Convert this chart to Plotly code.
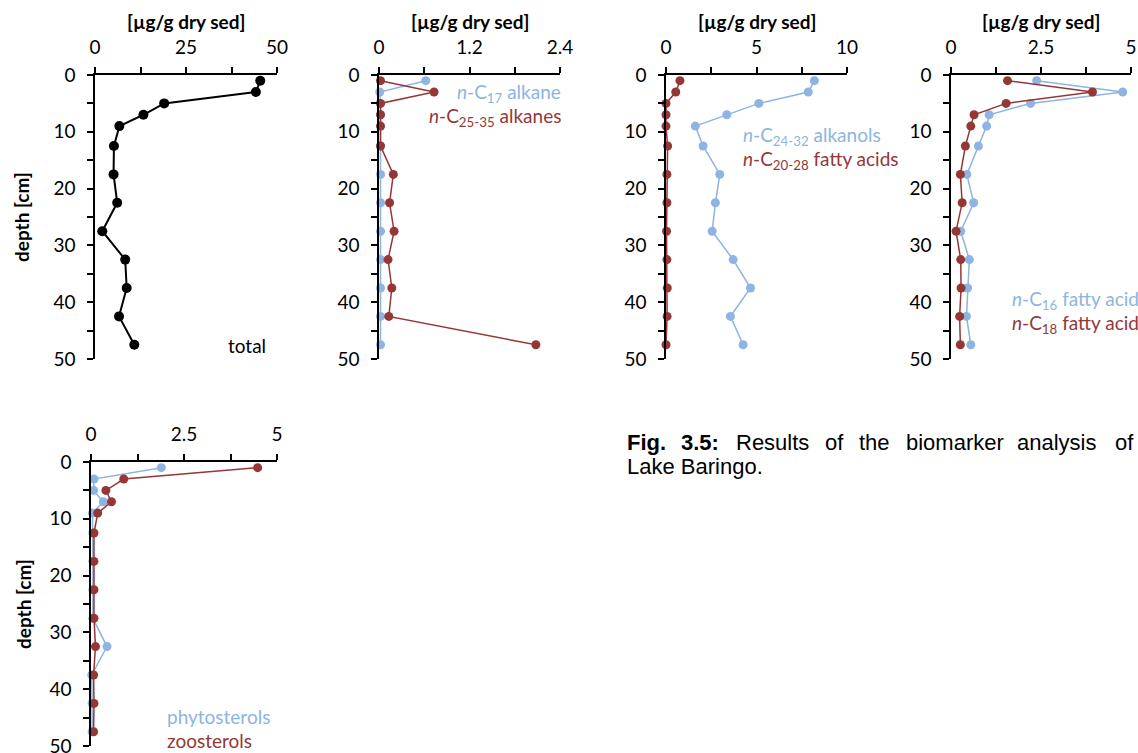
import plotly.graph_objects as go

# ---------------- data ----------------
depth = [1, 3, 5, 7, 9, 12.5, 17.5, 22.5, 27.5, 32.5, 37.5, 42.5, 47.5]
total = [45.4, 44.2, 19.0, 13.3, 6.7, 5.2, 5.1, 6.1, 2.0, 8.3, 8.7, 6.6, 10.8]
c17_alkane = [0.62, 0.01, 0.02, 0.02, 0.02, 0.02, 0.02, 0.02, 0.02, 0.02, 0.02, 0.02, 0.02]
c25_35_alkanes = [0.02, 0.73, 0.02, 0.02, 0.02, 0.02, 0.19, 0.14, 0.20, 0.12, 0.17, 0.13, 2.08]
c24_32_alkanols = [8.2, 7.86, 5.13, 3.36, 1.62, 2.05, 2.97, 2.73, 2.55, 3.71, 4.67, 3.56, 4.26]
c20_28_fatty = [0.77, 0.54, 0.0, 0.0, 0.0, 0.09, 0.05, 0.05, 0.03, 0.05, 0.07, 0.06, 0.0]
c16_fatty = [2.38, 4.77, 2.21, 1.06, 0.99, 0.76, 0.44, 0.63, 0.27, 0.51, 0.46, 0.43, 0.55]
c18_fatty = [1.57, 3.93, 1.53, 0.64, 0.55, 0.40, 0.26, 0.31, 0.14, 0.27, 0.28, 0.24, 0.26]
phytosterols = [1.89, 0.08, 0.07, 0.33, 0.04, 0.05, 0.05, 0.05, 0.05, 0.43, 0.02, 0.03, 0.03]
zoosterols = [4.48, 0.88, 0.40, 0.55, 0.18, 0.08, 0.08, 0.08, 0.08, 0.12, 0.07, 0.08, 0.07]

x_ranges = [[0, 50], [0, 2.4], [0, 10], [0, 5], [0, 5]]
x_ticks = [[0, 25, 50], [0, 1.2, 2.4], [0, 5, 10], [0, 2.5, 5], [0, 2.5, 5]]
x_ticktext = [["0", "25", "50"], ["0", "1.2", "2.4"], ["0", "5", "10"], ["0", "2.5", "5"], ["0", "2.5", "5"]]
x_minor = [12.5, 0.6, 2.5, 1.25, 1.25]
unit_label = "[µg/g dry sed]"
depth_label = "depth [cm]"
caption_words = [("<b>Fig.</b>", 625), ("<b>3.5:</b>", 679), ("Results", 734), ("of", 823),
                 ("the", 857), ("biomarker", 904), ("analysis", 1015), ("of", 1113)]
caption_line2 = "Lake Baringo."

# ---------------- styling ----------------
W, H = 1138, 753
BLUE = "#8DB4E2"
RED = "#953735"
BLACK = "#000000"
FONT = "Lato"

# panel geometry in pixels: (x0, x1, y0_top, y1_bottom)
panels = [(95, 277, 75, 359), (379, 560, 75, 359), (666, 847, 75, 359),
          (951, 1131, 75, 359), (91, 277, 462, 746)]

fig = go.Figure()


def px2x(px):
    return px / W


def px2y(py):
    return 1 - py / H


series = [
    [(total, BLACK, 2, 10)],
    [(c17_alkane, BLUE, 1.5, 9), (c25_35_alkanes, RED, 1.5, 9)],
    [(c24_32_alkanols, BLUE, 1.5, 9), (c20_28_fatty, RED, 1.5, 9)],
    [(c16_fatty, BLUE, 1.5, 9), (c18_fatty, RED, 1.5, 9)],
    [(phytosterols, BLUE, 1.5, 9), (zoosterols, RED, 1.5, 9)],
]

axis_common = dict(showline=True, linecolor="black", linewidth=1.5, ticks="outside",
                    ticklen=6, tickwidth=1.5, tickcolor="black", showgrid=False,
                    zeroline=False, automargin=False, ticklabeloverflow="allow",
                    tickfont=dict(family=FONT, size=19, color="black"))

for i, (x0, x1, y0, y1) in enumerate(panels):
    n = "" if i == 0 else str(i + 1)
    xr = x_ranges[i]
    minor_vals = []
    v = 0.0
    while v <= xr[1] + 1e-9:
        minor_vals.append(round(v, 4))
        v += x_minor[i]
    fig.update_layout(**{
        f"xaxis{n}": dict(domain=[px2x(x0), px2x(x1)], range=xr, side="top",
                          anchor=f"y{n}", tickvals=x_ticks[i], ticktext=x_ticktext[i],
                          minor=dict(tickvals=minor_vals, ticks="outside", ticklen=6,
                                     tickwidth=1.5, tickcolor="black"),
                          ticklabelstandoff=6, **axis_common),
        f"yaxis{n}": dict(domain=[px2y(y1), px2y(y0)], range=[50, 0], anchor=f"x{n}",
                          tickvals=[0, 10, 20, 30, 40, 50],
                          minor=dict(tickvals=[0, 5, 10, 15, 20, 25, 30, 35, 40, 45, 50],
                                     ticks="outside", ticklen=6, tickwidth=1.5,
                                     tickcolor="black"),
                          ticklabelstandoff=8, **axis_common),
    })
    for vals, col, lw, ms in series[i]:
        fig.add_trace(go.Scatter(x=vals, y=depth, mode="lines+markers",
                                 line=dict(color=col, width=lw),
                                 marker=dict(color=col, size=ms),
                                 cliponaxis=False, showlegend=False,
                                 xaxis=f"x{n}", yaxis=f"y{n}", hoverinfo="skip"))
    if i < 4:
        fig.add_annotation(x=px2x((x0 + x1) / 2), y=px2y(22), xref="paper", yref="paper",
                           text=f"<b>{unit_label}</b>", showarrow=False,
                           font=dict(family=FONT, size=19, color="black"),
                           xanchor="center", yanchor="middle")


def note(text, x, y, color, anchor="left", size=19, family=FONT, angle=0):
    fig.add_annotation(x=px2x(x), y=px2y(y), xref="paper", yref="paper", text=text,
                       showarrow=False, font=dict(family=family, size=size, color=color),
                       xanchor=anchor, yanchor="middle", textangle=angle)


# depth labels
note(f"<b>{depth_label}</b>", 22, 217, "black", anchor="center", angle=-90, size=19)
note(f"<b>{depth_label}</b>", 23, 604, "black", anchor="center", angle=-90, size=19)

# legends as text
note("total", 268, 345, "black", anchor="right")
note("<i>n</i>-C<sub>17</sub> alkane", 563, 93, BLUE, anchor="right")
note("<i>n</i>-C<sub>25-35</sub> alkanes", 563, 117, RED, anchor="right")
note("<i>n</i>-C<sub>24-32</sub> alkanols", 741, 136, BLUE)
note("<i>n</i>-C<sub>20-28</sub> fatty acids", 741, 160, RED)
note("<i>n</i>-C<sub>16</sub> fatty acid", 1010, 300, BLUE)
note("<i>n</i>-C<sub>18</sub> fatty acid", 1010, 324, RED)
note("phytosterols", 165, 716, BLUE)
note("zoosterols", 165, 740, RED)

# caption (justified first line)
for word, xpos in caption_words:
    note(word, xpos, 442, "black", size=22, family="Liberation Sans")
note(caption_line2, 625, 466, "black", size=22, family="Liberation Sans")

fig.update_layout(width=W, height=H, margin=dict(l=0, r=0, t=0, b=0),
                  paper_bgcolor="white", plot_bgcolor="white", showlegend=False)

fig.write_html("out.html")
